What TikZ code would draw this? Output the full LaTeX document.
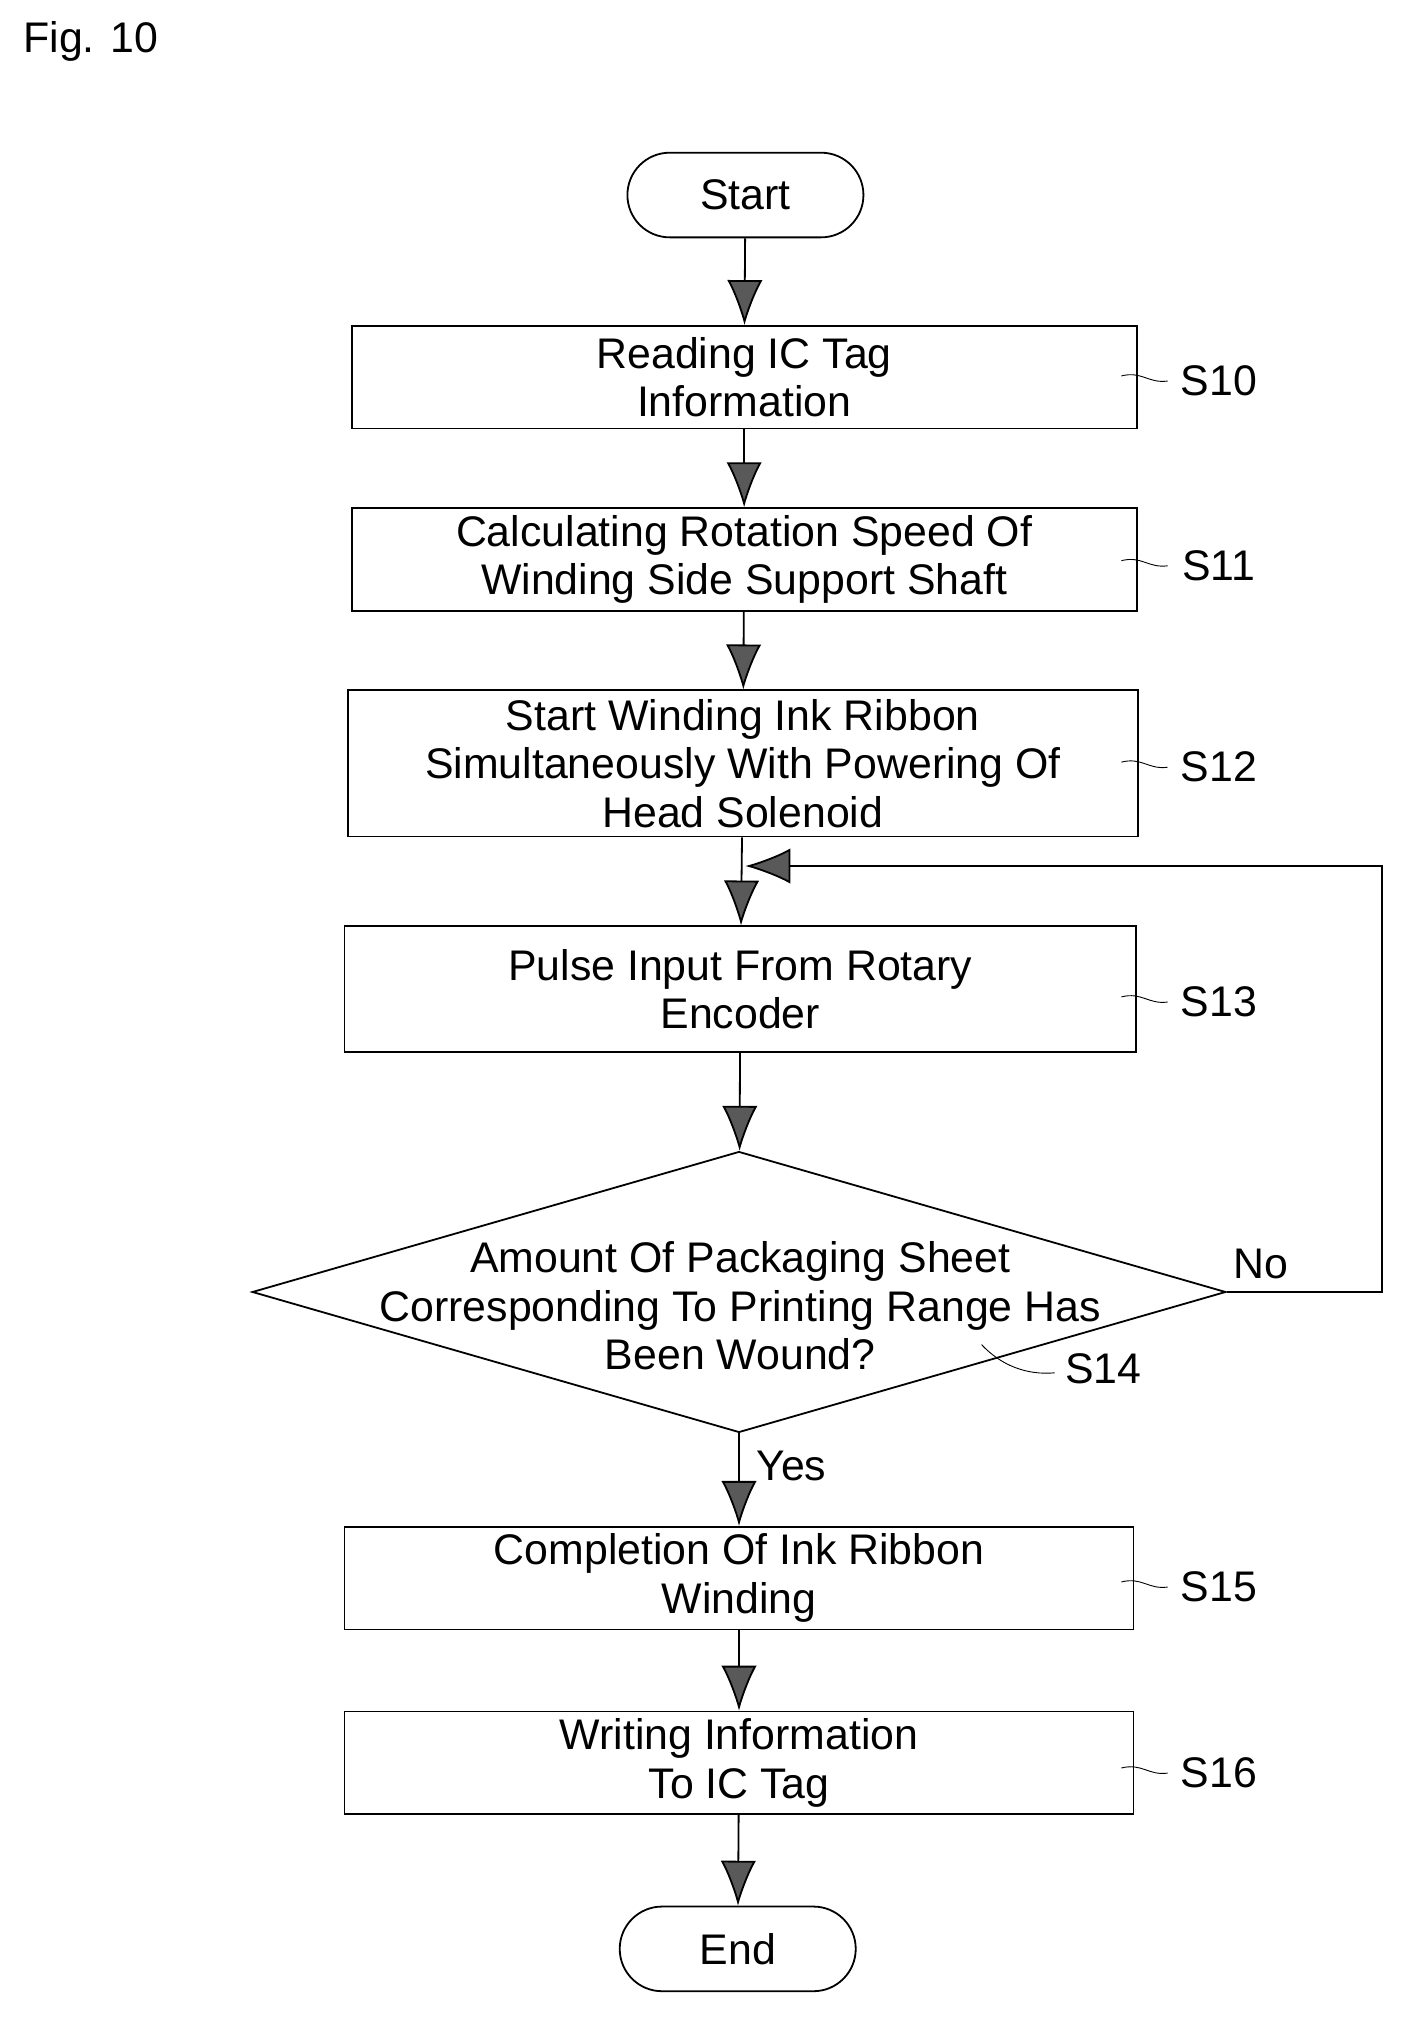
\documentclass[tikz,border=0pt]{standalone}
\usepackage{fontspec}
\setmainfont{Liberation Sans}
\usetikzlibrary{arrows.meta,shapes.geometric,positioning}

\tikzset{
  stepbox/.style={draw,thick,minimum height=1.6cm,align=center,inner sep=2pt},
  term/.style={draw,thick,rounded corners=0.66cm,minimum width=3.68cm,minimum height=1.32cm},
  flow/.style={thick,-{Latex[length=0.7cm,width=0.55cm,fill=black!65]}},
  tag/.style={font=\fontsize{19}{22}\selectfont}
}

\begin{document}
\begin{tikzpicture}[x=0.02cm,y=-0.02cm,font=\fontsize{19}{21.5}\selectfont]
  \useasboundingbox (0,0) rectangle (1100,1576);
  \node [anchor=west] (fig) at (12,32) {Fig. 10};

  \node [term] (start) at (581,152) {Start};
  \node [stepbox,minimum width=12.24cm] (s10) at (580,294) {Reading IC Tag\\Information};
  \node [stepbox,minimum width=12.24cm] (s11) at (580,436) {Calculating Rotation Speed Of\\Winding Side Support Shaft};
  \node [stepbox,minimum width=12.32cm,minimum height=2.28cm] (s12) at (579,595) {Start Winding Ink Ribbon\\Simultaneously With Powering Of\\Head Solenoid};
  \node [stepbox,minimum width=12.34cm,minimum height=1.96cm] (s13) at (577,771) {Pulse Input From Rotary\\Encoder};
  \node [draw,thick,diamond,aspect=3.47,minimum width=15.18cm,minimum height=4.38cm,inner sep=0pt,align=center] (s14) at (576,1007) {};
  \node [align=center] (q) at (577,1018) {Amount Of Packaging Sheet\\Corresponding To Printing Range Has\\Been Wound?};
  \node [stepbox,minimum width=12.3cm] (s15) at (576,1230) {Completion Of Ink Ribbon\\Winding};
  \node [stepbox,minimum width=12.3cm] (s16) at (576,1374) {Writing Information\\To IC Tag};
  \node [term] (end) at (575,1519) {End};

  % step labels
  \foreach \n/\y/\t in {s10/297/S10,s11/441/S11,s12/598/S12,s13/781/S13,s15/1237/S15,s16/1382/S16}
    \node [tag] (l\n) at (950,\y) {\t};
  \foreach \n/\y in {s10/297,s11/441,s12/598,s13/781,s15/1237,s16/1382}
    \draw (874,\y-4) .. controls (890,\y-8) and (895,\y+2) .. (910,\y);
  \node [tag] (ls14) at (860,1067) {S14};
  \draw (765,1048) .. controls (780,1064) and (800,1072) .. (822,1070);

  \draw [flow] (start) -- (s10);
  \draw [flow] (s10) -- (s11);
  \draw [flow] (s11) -- (s12);
  \draw [flow] (s12) -- (s13);
  \draw [flow] (s13) -- (s14);
  \draw [flow] (s14) -- node [right=4pt,pos=0.35] {Yes} (s15);
  \draw [flow] (s15) -- (s16);
  \draw [flow] (s16) -- (end);

  \coordinate (back) at (581,675);
  \draw [flow] (s14.east) -- node [above=2pt,pos=0.22] {No} (1077,1007) -- (1077,675) -- (back);
\end{tikzpicture}
\end{document}
